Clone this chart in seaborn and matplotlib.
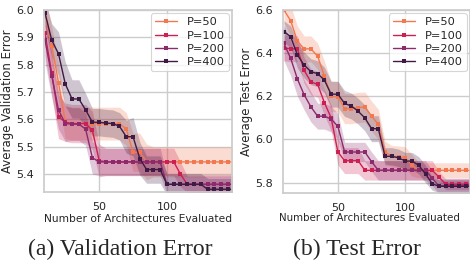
import numpy as np
import pandas as pd
import matplotlib
matplotlib.use("Agg")
import matplotlib.pyplot as plt
import seaborn as sns

# numero de arquitecturas evaluadas
n_eval = list(range(10, 151, 5))
sizes = ["P=50", "P=100", "P=200", "P=400"]

# error de validacion (media) por poblacion
val_p50 = [5.99, 5.87, 5.735, 5.59, 5.585, 5.585, 5.585, 5.585, 5.585, 5.585, 5.585, 5.585,
           5.565, 5.48, 5.48, 5.445] + [5.445] * 13
val_p100 = [5.915, 5.77, 5.61, 5.59, 5.585, 5.585, 5.585, 5.56, 5.45] + [5.445] * 11 + \
           [5.40, 5.363] + [5.363] * 7
val_p200 = [5.89, 5.76, 5.635, 5.585, 5.583, 5.583, 5.565, 5.46] + [5.445] * 10 + [5.363] * 11
val_p400 = [5.99, 5.89, 5.84, 5.73, 5.675, 5.675, 5.635, 5.59, 5.59, 5.587, 5.585, 5.575,
            5.537, 5.537, 5.457, 5.417, 5.417, 5.417, 5.363] + [5.363] * 5 + [5.345] * 5

# dispersion (semi-ancho de la banda) validacion
val_sd_p50 = [0.06, 0.07, 0.07] + [0.06] * 10 + [0.07, 0.07, 0.065] + [0.055] * 13
val_sd_p100 = [0.08, 0.08, 0.08, 0.07, 0.07, 0.07, 0.07, 0.07, 0.06] + [0.05] * 11 + \
              [0.045] + [0.03] * 8
val_sd_p200 = [0.08, 0.08, 0.07, 0.065, 0.06, 0.06, 0.06, 0.06] + [0.05] * 10 + [0.035] * 11
val_sd_p400 = [0.05, 0.06, 0.08, 0.08, 0.07, 0.07, 0.06, 0.05, 0.05, 0.05, 0.05, 0.05,
               0.06, 0.07, 0.06, 0.05, 0.05, 0.05] + [0.04] * 11

# error de test (media) por poblacion
test_p50 = [6.60, 6.55, 6.455, 6.42, 6.42, 6.386, 6.293, 6.20, 6.198, 6.143, 6.143, 6.148,
            6.15, 6.108, 6.07, 5.942, 5.922, 5.92, 5.916, 5.88] + [5.857] * 9
test_p100 = [6.425, 6.42, 6.42, 6.32, 6.267, 6.255, 6.171, 6.10, 5.942, 5.902, 5.902, 5.902,
             5.857] + [5.857] * 10 + [5.826] + [5.792] * 5
test_p200 = [6.445, 6.376, 6.28, 6.207, 6.151, 6.108, 6.108, 6.095, 6.061, 5.942, 5.942,
             5.942, 5.942, 5.897, 5.857] + [5.857] * 7 + [5.82] + [5.785] * 6
test_p400 = [6.50, 6.476, 6.391, 6.345, 6.314, 6.305, 6.275, 6.21, 6.21, 6.167, 6.155, 6.131,
             6.10, 6.05, 6.05, 5.922, 5.922, 5.915, 5.90, 5.90, 5.88, 5.84, 5.795] + [5.783] * 6

# dispersion test
test_sd_p50 = [0.06, 0.07, 0.07, 0.06, 0.06, 0.06, 0.07] + [0.07] * 8 + [0.05] * 5 + [0.035] * 9
test_sd_p100 = [0.06] * 8 + [0.06] * 4 + [0.045] * 11 + [0.025] * 6
test_sd_p200 = [0.08, 0.08, 0.08, 0.07, 0.07, 0.06, 0.06, 0.06, 0.06] + [0.045] * 13 + [0.035] * 7
test_sd_p400 = [0.05, 0.05, 0.06, 0.06, 0.06, 0.06, 0.06, 0.06, 0.06, 0.06, 0.06, 0.06,
                0.06, 0.06, 0.06] + [0.04] * 7 + [0.03] * 7

colores = ["#f3774f", "#cc1f52", "#8c2a6c", "#3e1a45"]

sns.set_theme(style="whitegrid")
plt.rcParams["font.family"] = ["DejaVu Sans"]

fig = plt.figure(figsize=(4.7, 2.62), dpi=100)
ax1 = fig.add_axes([44 / 470, 1 - 192 / 262, 188 / 470, 182 / 262])
ax2 = fig.add_axes([283 / 470, 1 - 193 / 262, 187 / 470, 183 / 262])


def dibujar(ax, medias, sds, ylabel, ylim, yticks):
    filas = []
    for nombre, m in zip(sizes, medias):
        for x, v in zip(n_eval, m):
            filas.append({"n": x, "err": v, "P": nombre})
    df = pd.DataFrame(filas)
    sns.lineplot(data=df, x="n", y="err", hue="P", hue_order=sizes, palette=colores,
                 marker="s", markersize=2.6, markeredgewidth=0, linewidth=1.0,
                 errorbar=None, ax=ax)
    for c, m, s in zip(colores, medias, sds):
        m = np.array(m)
        s = np.array(s)
        ax.fill_between(n_eval, m - s, m + s, color=c, alpha=0.25, linewidth=0)
    ax.set_xlim(9.3, 148)
    ax.set_ylim(*ylim)
    ax.set_xticks([50, 100])
    ax.set_yticks(yticks)
    ax.set_xlabel("Number of Architectures Evaluated", fontsize=7.7, labelpad=1.5)
    ax.set_ylabel(ylabel, fontsize=8.5, labelpad=2)
    ax.tick_params(labelsize=8, pad=1)
    leg = ax.legend(loc="upper right", fontsize=8.2, borderaxespad=0.3,
                    handlelength=2.0, labelspacing=0.28, borderpad=0.35)
    leg.get_frame().set_linewidth(0.8)


dibujar(ax1, [val_p50, val_p100, val_p200, val_p400],
        [val_sd_p50, val_sd_p100, val_sd_p200, val_sd_p400],
        "Average Validation Error", (5.335, 6.0), [5.4, 5.5, 5.6, 5.7, 5.8, 5.9, 6.0])
dibujar(ax2, [test_p50, test_p100, test_p200, test_p400],
        [test_sd_p50, test_sd_p100, test_sd_p200, test_sd_p400],
        "Average Test Error", (5.752, 6.6), [5.8, 6.0, 6.2, 6.4, 6.6])
ax1.set_yticklabels(["5.4", "5.5", "5.6", "5.7", "5.8", "5.9", "6.0"])
ax2.set_yticklabels(["5.8", "6.0", "6.2", "6.4", "6.6"])

# la etiqueta x del panel derecho va un poco a la izquierda para no cortarse
ax2.xaxis.get_label().set_fontsize(7.4)
ax2.xaxis.set_label_coords((369 - 283) / 187, -0.108)

# subtitulos
fig.text(120 / 470, 1 - 249 / 262, "(a) Validation Error", ha="center", va="center",
         fontsize=17, family="Liberation Serif")
fig.text(357 / 470, 1 - 249 / 262, "(b) Test Error", ha="center", va="center",
         fontsize=17, family="Liberation Serif")

fig.savefig("out.png", dpi=100)
